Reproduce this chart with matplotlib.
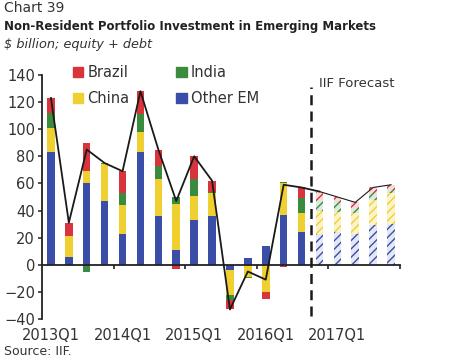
"""Non-resident portfolio investment in emerging markets, stacked by region (IIF chart 39)."""

import matplotlib
matplotlib.use("Agg")
import matplotlib.pyplot as plt
from matplotlib.patches import Patch
from matplotlib.transforms import blended_transform_factory

quarters = ["2013Q1", "2013Q2", "2013Q3", "2013Q4",
            "2014Q1", "2014Q2", "2014Q3", "2014Q4",
            "2015Q1", "2015Q2", "2015Q3", "2015Q4",
            "2016Q1", "2016Q2", "2016Q3", "2016Q4",
            "2017Q1", "2017Q2", "2017Q3", "2017Q4"]
other_em = [83, 6, 60, 47, 23, 83, 36, 11, 33, 36, -4, 5, 14, 37, 24, 23, 24, 23, 29, 30]
china = [18, 15, 9, 27, 21, 15, 27, 34, 18, 17, -18, -9, -20, 23, 14, 17, 15, 15, 19, 23]
india = [11, 0, -5, 1, 9, 13, 10, 5, 12, 1, -4, -1, 0, 1, 11, 8, 7, 4, 5, 2]
brazil = [11, 10, 21, 0, 16, 17, 12, -3, 17, 8, -7, 0, -5, -2, 8, 6, 4, 4, 4, 4]
n_actual = 15  # 2016Q4 onwards is IIF forecast
year_labels = ["2013Q1", "2014Q1", "2015Q1", "2016Q1", "2017Q1"]

COLORS = {"Other EM": "#3a4ea8", "China": "#f0d030", "India": "#3b8b3e", "Brazil": "#d9333b"}
LIGHT = {"Other EM": "#e4e7f4", "China": "#fcf4c8", "India": "#dcebdc", "Brazil": "#f8dcdc"}
TXT = "#333333"

plt.rcParams["font.family"] = ["DejaVu Sans"]
plt.rcParams["hatch.linewidth"] = 1.0

fig = plt.figure(figsize=(4.5, 3.6), dpi=100)
ax = fig.add_axes([0.0933, 0.114, 0.7956, 0.6778])

series = [("Other EM", other_em), ("China", china), ("India", india), ("Brazil", brazil)]
x = list(range(len(quarters)))
pos_base = [0.0] * len(x)
neg_base = [0.0] * len(x)
width = 0.42
for name, vals in series:
    for i, v in enumerate(vals):
        if v == 0:
            continue
        base = pos_base[i] if v > 0 else neg_base[i]
        if i < n_actual:
            ax.bar(i, v, width, bottom=base, color=COLORS[name], linewidth=0, zorder=2)
        else:
            ax.bar(i, v, width, bottom=base, facecolor=LIGHT[name], edgecolor=COLORS[name],
                   hatch="////", linewidth=0, zorder=2)
        if v > 0:
            pos_base[i] += v
        else:
            neg_base[i] += v

totals = [a + b + c + d for a, b, c, d in zip(other_em, china, india, brazil)]
ax.plot(x[:n_actual + 1], totals[:n_actual + 1], color="#1a1a1a", lw=1.3, zorder=3)
ax.plot(x[n_actual:], totals[n_actual:], color="#1a1a1a", lw=0.8, zorder=3)

ax.set_xlim(-0.5, len(quarters) - 0.5)
ax.set_ylim(-40, 140)
ax.set_yticks(range(-40, 141, 20))
ax.tick_params(axis="y", labelsize=10.5, colors=TXT, length=3, width=1.2, pad=2)

# x axis sits at zero, ticks at year boundaries
ax.spines["bottom"].set_position(("data", 0))
ax.spines["top"].set_visible(False)
ax.spines["right"].set_visible(False)
for s in ("left", "bottom"):
    ax.spines[s].set_linewidth(1.3)
    ax.spines[s].set_color("#222222")
ax.set_xticks([3.5, 7.5, 11.5, 15.5, 19.5])
ax.set_xticklabels([])
ax.tick_params(axis="x", length=3, width=1.2, colors="#222222")

trans = blended_transform_factory(ax.transData, ax.transAxes)
for lab in year_labels:
    ax.text(quarters.index(lab), -0.035, lab, transform=trans, ha="center", va="top",
            fontsize=10.5, color=TXT)

# forecast divider
ax.plot([n_actual - 0.5] * 2, [-38, 131], color="#1a1a1a", lw=1.8,
        linestyle=(0, (4, 2.5)), clip_on=False, zorder=4)
ax.text(n_actual - 0.05, 134, "IIF Forecast", fontsize=9.5, color=TXT, va="center", ha="left")

handles = [Patch(color=COLORS[k]) for k in ("Brazil", "China", "India", "Other EM")]
ax.legend(handles, ["Brazil", "China", "India", "Other EM"], ncol=2, frameon=False,
          loc="upper left", bbox_to_anchor=(0.05, 1.095), fontsize=10.5, handlelength=0.7,
          handleheight=0.7, handletextpad=0.3, columnspacing=3.2, labelspacing=0.75,
          labelcolor=TXT)

fig.text(0.01, 0.997, "Chart 39", fontsize=10, color=TXT, va="top")
fig.text(0.01, 0.945, "Non-Resident Portfolio Investment in Emerging Markets", fontsize=8.5,
         color="#222222", va="top", fontweight="bold")
fig.text(0.01, 0.895, "$ billion; equity + debt", fontsize=9.3, color=TXT, va="top",
         style="italic")
fig.text(0.01, 0.005, "Source: IIF.", fontsize=9, color=TXT, va="bottom")

fig.savefig("out.png", dpi=100)
